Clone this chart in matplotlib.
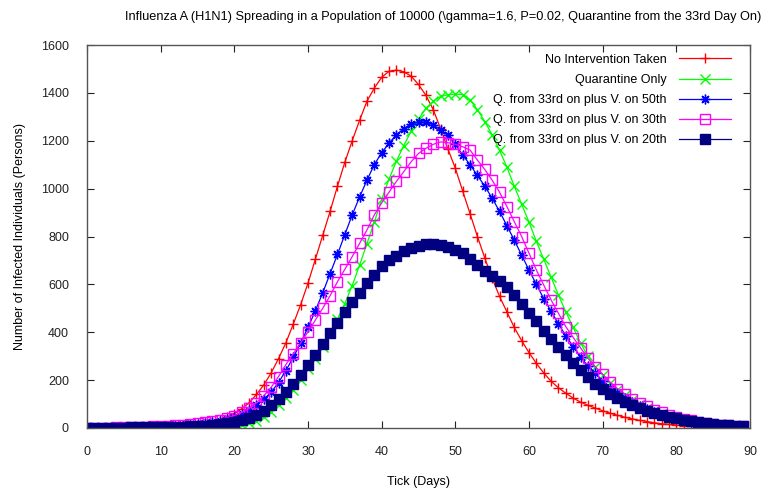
import matplotlib
matplotlib.use("Agg")
import matplotlib.pyplot as plt
import numpy as np

days = np.arange(90)

no_intervention = [
    1, 1, 2, 2, 3, 3, 4, 5, 5, 6,
    7, 8, 10, 12, 15, 18, 22, 28, 35, 45,
    60, 80, 105, 140, 180, 230, 290, 356, 434, 515,
    605, 705, 805, 905, 1010, 1110, 1200, 1285, 1365, 1420,
    1465, 1490, 1495, 1488, 1470, 1435, 1390, 1330, 1250, 1165,
    1085, 990, 895, 800, 710, 625, 550, 485, 420, 365,
    315, 270, 230, 195, 168, 145, 125, 108, 95, 83,
    72, 62, 53, 45, 38, 32, 27, 22, 18, 15,
    12, 10, 8, 7, 6, 5, 4, 3, 3, 2,
]
quarantine_only = [
    1, 1, 1, 1, 1, 1, 1, 1, 1, 1,
    1, 1, 1, 2, 2, 2, 3, 4, 5, 7,
    10, 14, 20, 30, 45, 68, 95, 125, 160, 200,
    245, 290, 340, 395, 455, 520, 595, 680, 770, 860,
    955, 1040, 1115, 1180, 1240, 1290, 1335, 1365, 1385, 1392,
    1395, 1393, 1370, 1330, 1280, 1225, 1160, 1090, 1010, 935,
    860, 780, 705, 630, 555, 485, 420, 355, 300, 255,
    220, 188, 160, 138, 118, 100, 85, 72, 60, 50,
    42, 35, 28, 23, 19, 15, 12, 10, 8, 6,
]
vacc_50th = [
    1, 1, 2, 2, 3, 3, 4, 4, 5, 6,
    7, 8, 9, 11, 13, 16, 20, 25, 30, 37,
    45, 58, 75, 95, 120, 150, 190, 240, 295, 355,
    420, 490, 565, 645, 725, 808, 890, 965, 1035, 1100,
    1150, 1190, 1225, 1250, 1270, 1278, 1278, 1266, 1245, 1222,
    1185, 1140, 1100, 1055, 1010, 960, 905, 845, 785, 722,
    660, 600, 540, 488, 435, 385, 340, 298, 258, 228,
    195, 168, 145, 125, 108, 92, 78, 66, 56, 47,
    40, 33, 27, 22, 18, 15, 12, 10, 8, 6,
]
vacc_30th = [
    1, 1, 2, 2, 3, 4, 4, 5, 6, 7,
    8, 9, 11, 13, 16, 19, 23, 28, 35, 43,
    52, 65, 82, 105, 135, 170, 215, 265, 310, 355,
    402, 451, 500, 553, 611, 663, 716, 771, 827, 890,
    940, 985, 1030, 1071, 1112, 1147, 1168, 1185, 1195, 1192,
    1185, 1175, 1161, 1119, 1080, 1035, 985, 925, 862, 800,
    730, 660, 597, 535, 479, 423, 378, 335, 291, 256,
    225, 192, 165, 142, 122, 105, 90, 77, 65, 55,
    46, 38, 32, 26, 21, 17, 14, 11, 9, 7,
]
vacc_20th = [
    1, 1, 1, 2, 2, 2, 3, 3, 3, 4,
    4, 5, 5, 6, 7, 8, 10, 12, 15, 19,
    25, 33, 43, 56, 72, 95, 120, 150, 185, 222,
    262, 305, 350, 395, 440, 485, 528, 565, 605, 640,
    675, 700, 720, 738, 752, 762, 768, 768, 765, 758,
    745, 730, 705, 680, 655, 635, 615, 590, 555, 518,
    480, 445, 405, 372, 340, 305, 272, 242, 212, 185,
    162, 142, 125, 110, 96, 84, 73, 63, 54, 46,
    40, 34, 29, 24, 20, 17, 14, 12, 10, 8,
]

# label, values, colour, marker, face, size
series = [
    ("No Intervention Taken", no_intervention, "#ff0000", "+", "none", 7),
    ("Quarantine Only", quarantine_only, "#00ff00", "x", "none", 7),
    ("Q. from 33rd on plus V. on 50th", vacc_50th, "#0000ff", (8, 2, 0), "#0000ff", 7),
    ("Q. from 33rd on plus V. on 30th", vacc_30th, "#ff00ff", "s", "none", 6.5),
    ("Q. from 33rd on plus V. on 20th", vacc_20th, "#000080", "s", "#000080", 6.5),
]

plt.rcParams["font.family"] = ["Liberation Sans", "DejaVu Sans"]

fig = plt.figure(figsize=(7.68, 4.92), dpi=100)
ax = fig.add_axes([87 / 768, 1 - 428 / 492, (750 - 87) / 768, (428 - 45) / 492])

for label, values, color, marker, face, size in series:
    ax.plot(days, values, color=color, linewidth=0.9, marker=marker,
            markersize=size, markerfacecolor=face,
            markeredgecolor=color, markeredgewidth=1.0, label=label)

ax.set_xlim(0, 90)
ax.set_ylim(0, 1600)
ax.set_xticks(range(0, 91, 10))
ax.set_yticks(range(0, 1601, 200))
ax.tick_params(direction="in", top=True, right=True, length=5, width=0.8,
               labelsize=9, colors="#222222")
ax.tick_params(axis="x", pad=13)
ax.tick_params(axis="y", pad=13)
for spine in ax.spines.values():
    spine.set_color("#555555")
    spine.set_linewidth(1.0)

ax.set_xlabel("Tick (Days)", fontsize=9, labelpad=13)
ax.set_ylabel("Number of Infected Individuals (Persons)", fontsize=9, labelpad=11)
fig.text(0.577, 0.965,
         "Influenza A (H1N1) Spreading in a Population of 10000 "
         "(\\gamma=1.6, P=0.02, Quarantine from the 33rd Day On)",
         ha="center", va="center", fontsize=9.2)

ax.legend(loc="upper right", bbox_to_anchor=(0.985, 1.0), markerfirst=False,
          frameon=False, fontsize=9, handlelength=4.2, labelspacing=0.65,
          handletextpad=1.0, borderaxespad=0.3)

fig.savefig("out.png", dpi=100)
